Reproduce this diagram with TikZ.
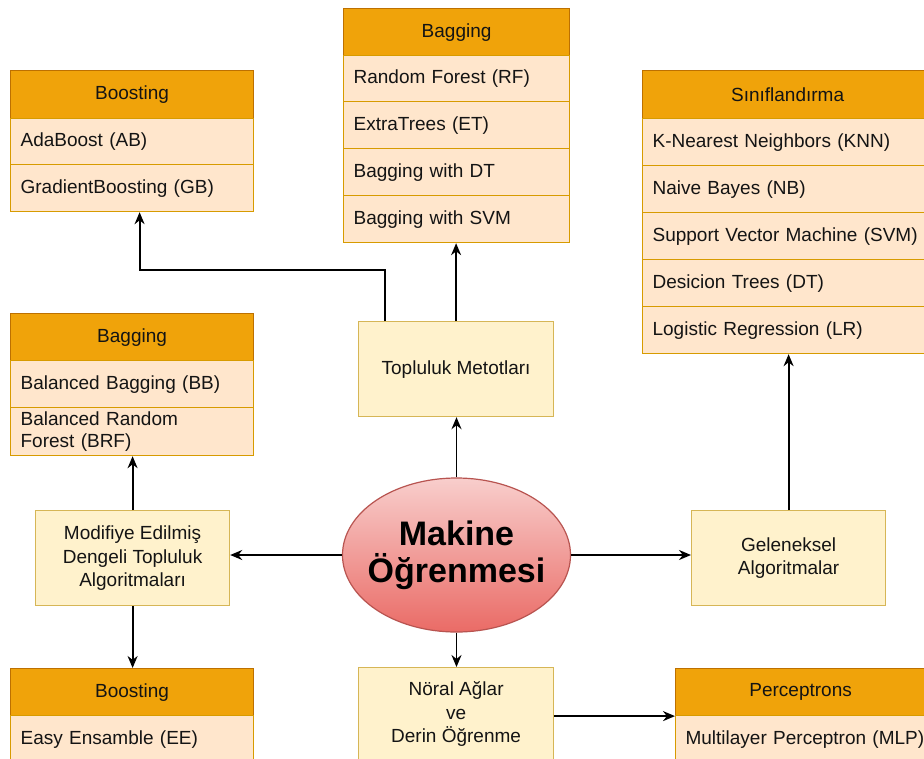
\documentclass[tikz,border=0pt]{standalone}
\usepackage{fontspec}
\setmainfont{Liberation Sans}
\usetikzlibrary{arrows.meta,shapes.geometric,calc}
\definecolor{hdrfill}{HTML}{F0A30A}
\definecolor{hdrline}{HTML}{BD7000}
\definecolor{rowfill}{HTML}{FFE6CC}
\definecolor{rowline}{HTML}{D79B00}
\definecolor{yelfill}{HTML}{FFF2CC}
\definecolor{yelline}{HTML}{D6B656}
\definecolor{elltop}{HTML}{F8CECC}
\definecolor{ellbot}{HTML}{EA6B66}
\definecolor{ellline}{HTML}{B85450}
\definecolor{txt}{HTML}{141414}
\newcommand\hdrb[6]{\node[hdr,minimum width=#4pt,minimum height=#5pt] (#1) at (#2,#3) {#6};}
\newcommand\rowb[6]{\node[rowbox,text width=#4pt,minimum height=#5pt] (#1) at (#2,#3) {#6};}
\begin{document}
\begin{tikzpicture}[x=1pt,y=-1pt,
 every node/.style={font=\fontsize{19}{22}\selectfont, text=txt},
 hdr/.style={draw=hdrline, fill=hdrfill, anchor=north west, inner sep=0pt, line width=1.2pt},
 rowbox/.style={draw=rowline, fill=rowfill, anchor=north west, inner xsep=10pt, inner ysep=0pt, align=left, line width=1.2pt},
 yelbox/.style={draw=yelline, fill=yelfill, anchor=north west, inner sep=0pt, align=center, line width=1.2pt, font=\fontsize{19}{23.5}\selectfont},
 arr/.style={-{Stealth[length=12pt,width=10pt]}, line width=1.8pt, black}]
\useasboundingbox[fill=white] (0,0) rectangle (924,758);
\clip (0,0) rectangle (924,758);

% Boosting (top left)
\hdrb{bAh}{10}{70}{243}{48}{Boosting}
\rowb{bA1}{10}{118}{223}{46}{AdaBoost (AB)}
\rowb{bA2}{10}{164}{223}{47}{GradientBoosting (GB)}

% Bagging (top)
\hdrb{gAh}{343}{8}{226}{47}{Bagging}
\rowb{gA1}{343}{55}{206}{46}{Random Forest (RF)}
\rowb{gA2}{343}{101}{206}{47}{ExtraTrees (ET)}
\rowb{gA3}{343}{148}{206}{47}{Bagging with DT}
\rowb{gA4}{343}{195}{206}{47}{Bagging with SVM}

% Siniflandirma
\hdrb{sh}{642}{70}{290}{48}{Sınıflandırma}
\rowb{s1}{642}{118}{270}{47}{K-Nearest Neighbors (KNN)}
\rowb{s2}{642}{165}{270}{47}{Naive Bayes (NB)}
\rowb{s3}{642}{212}{270}{47}{Support Vector Machine (SVM)}
\rowb{s4}{642}{259}{270}{47}{Desicion Trees (DT)}
\rowb{s5}{642}{306}{270}{47}{Logistic Regression (LR)}

% Bagging (left)
\hdrb{gBh}{10}{313}{243}{47}{Bagging}
\rowb{gB1}{10}{360}{223}{47}{Balanced Bagging (BB)}
\rowb{gB2}{10}{407}{223}{48}{Balanced Random\\Forest (BRF)}

% Boosting (bottom left)
\hdrb{bBh}{10}{668}{243}{47}{Boosting}
\rowb{bB1}{10}{715}{223}{47}{Easy Ensamble (EE)}

% Perceptrons
\hdrb{ph}{675}{668}{250}{47}{Perceptrons}
\rowb{p1}{675}{715}{260}{47}{Multilayer Perceptron (MLP)}

% middle boxes
\node[yelbox,minimum width=195pt,minimum height=95pt] (topl) at (358,321) {Topluluk Metotları};
\node[yelbox,minimum width=194pt,minimum height=95pt] (mod) at (35,510) {Modifiye Edilmiş\\Dengeli Topluluk\\Algoritmaları};
\node[yelbox,minimum width=194pt,minimum height=95pt] (gel) at (691,510) {Geleneksel\\Algoritmalar};
\node[yelbox,minimum width=195pt,minimum height=93pt] (nor) at (358,667) {Nöral Ağlar\\ve\\Derin Öğrenme};

% central ellipse
\node[ellipse, draw=ellline, line width=1.2pt, top color=elltop, bottom color=ellbot,
      minimum width=228pt, minimum height=154pt, inner sep=0pt] (ml) at (456.5,555) {};
\node[align=center, font=\bfseries\fontsize{34}{37}\selectfont, text=black] (mlt) at (ml.center) {Makine\\Öğrenmesi};

% connectors
\draw[arr] ([xshift=-71.5pt]topl.north) -- ++(0,-51) -| ([xshift=7.5pt]bA2.south);
\draw[arr] (topl.north) -- (topl.north |- gA4.south);
\draw[arr] (ml.north) -- (ml.north |- topl.south);
\draw[arr] (ml.west) -- (ml.west -| mod.east);
\draw[arr] (ml.east) -- (ml.east -| gel.west);
\draw[arr] (gel.north) -- (gel.north |- s5.south);
\draw[arr] (mod.north) -- (mod.north |- gB2.south);
\draw[arr] (mod.south) -- (mod.south |- bBh.north);
\draw[arr] (ml.south) -- (ml.south |- nor.north);
\draw[arr] ([yshift=-2pt]nor.east) -- ([yshift=-2pt]nor.east -| ph.west);
\end{tikzpicture}
\end{document}
